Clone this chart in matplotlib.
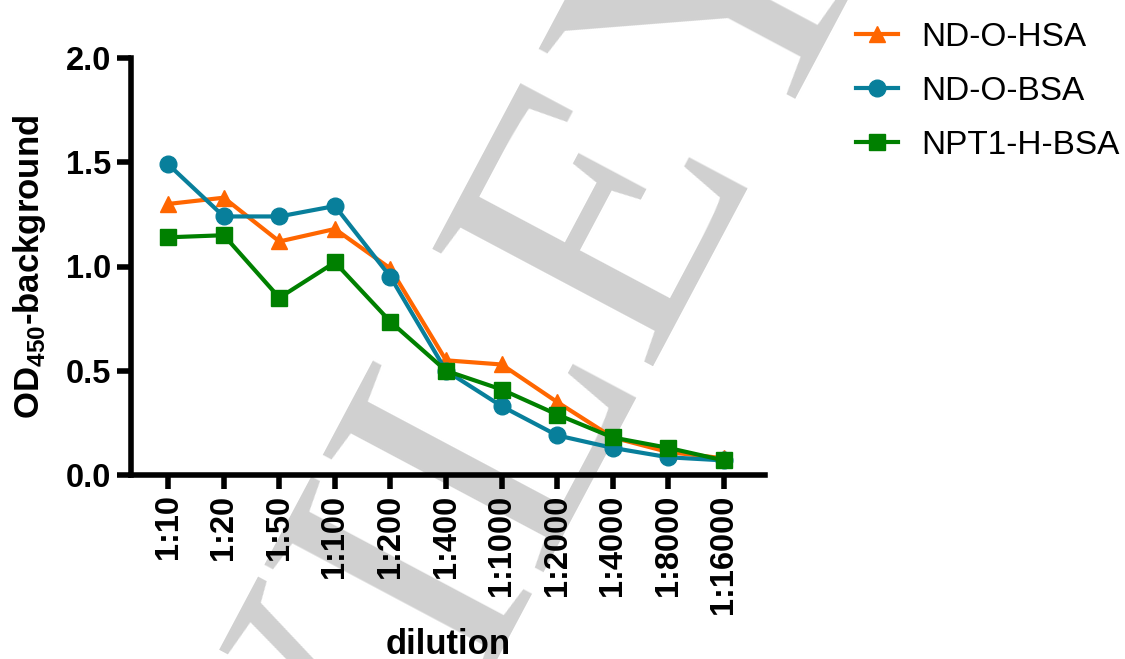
import matplotlib
matplotlib.use('Agg')
import matplotlib.pyplot as plt

plt.rcParams['font.family'] = ['Liberation Sans', 'DejaVu Sans']
plt.rcParams['mathtext.fontset'] = 'custom'
plt.rcParams['mathtext.rm'] = 'Liberation Sans:bold'
plt.rcParams['mathtext.bf'] = 'Liberation Sans:bold'

# Data
dilutions = ['1:10', '1:20', '1:50', '1:100', '1:200', '1:400',
             '1:1000', '1:2000', '1:4000', '1:8000', '1:16000']
nd_o_hsa = [1.30, 1.33, 1.12, 1.18, 0.99, 0.55, 0.53, 0.35, 0.18, 0.11, 0.08]
nd_o_bsa = [1.49, 1.24, 1.24, 1.29, 0.95, 0.50, 0.33, 0.19, 0.13, 0.085, 0.07]
npt1_h_bsa = [1.14, 1.15, 0.85, 1.02, 0.735, 0.50, 0.41, 0.29, 0.18, 0.13, 0.07]

series = [
    ('ND-O-HSA', nd_o_hsa, '#ff6600', '^'),
    ('ND-O-BSA', nd_o_bsa, '#087f9b', 'o'),
    ('NPT1-H-BSA', npt1_h_bsa, '#008000', 's'),
]

fig = plt.figure(figsize=(11.25, 6.59), dpi=100)
ax = fig.add_axes([131/1125, 1 - 475/659, (765 - 131)/1125, (475 - 58)/659])
ax.set_facecolor('none')

# watermark behind everything
fig.text(518/1125, 1 - 425/659, 'WILEY', rotation=62, fontsize=275,
         family='Liberation Serif', color='#d0d0d0', ha='center', va='center',
         zorder=-5)

x = list(range(len(dilutions)))
for label, vals, color, marker in series:
    ax.plot(x, vals, color=color, marker=marker, lw=3, ms=12,
            label=label, clip_on=False)

ax.set_xlim(-0.67, 10.74)
ax.set_ylim(0, 2.0)
ax.set_yticks([0, 0.5, 1.0, 1.5, 2.0])
ax.set_yticklabels(['0.0', '0.5', '1.0', '1.5', '2.0'])
ax.set_xticks(x)
ax.set_xticklabels(dilutions, rotation=90)

for s in ['top', 'right']:
    ax.spines[s].set_visible(False)
for s in ['left', 'bottom']:
    ax.spines[s].set_linewidth(4)
ax.tick_params(axis='both', width=4, length=10, labelsize=23.5, pad=4)
for t in ax.get_xticklabels() + ax.get_yticklabels():
    t.set_fontweight('bold')

ax.set_xlabel('dilution', fontsize=25, fontweight='bold', labelpad=10)
ax.set_ylabel(r'OD$_{\mathbf{450}}$-background', fontsize=25, fontweight='bold', labelpad=13)

ax.legend(loc='upper left', bbox_to_anchor=(856/1125, 0.967), bbox_transform=fig.transFigure,
          frameon=False, fontsize=24, handlelength=1.25, handletextpad=0.7,
          labelspacing=0.69, borderpad=0, borderaxespad=0)

plt.savefig('out.png', dpi=100)
